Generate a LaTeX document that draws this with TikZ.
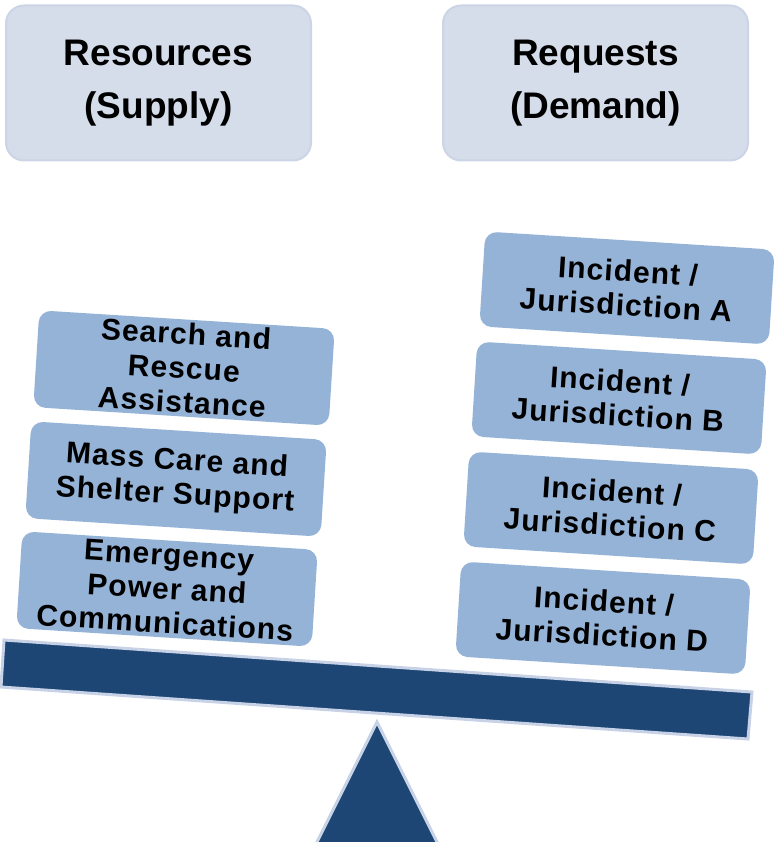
\documentclass[tikz,border=0pt]{standalone}
\usepackage{fontspec}
\setmainfont{Liberation Sans}
\newfontfamily\boxfont[LetterSpace=3.5]{Liberation Sans}
\definecolor{topfill}{HTML}{D5DCEA}
\definecolor{topline}{HTML}{CCD5E6}
\definecolor{boxfill}{HTML}{95B3D7}
\definecolor{beamfill}{HTML}{1D4675}
\definecolor{beamline}{HTML}{C8D2E6}
\begin{document}
\begin{tikzpicture}[x=1pt,y=-1pt,
  headbox/.style={draw=topline, line width=2pt, fill=topfill, rounded corners=18pt,
    minimum width=305pt, minimum height=155pt, align=center, inner sep=0pt,
    font=\fontsize{37}{53}\selectfont\bfseries},
  leftbox/.style={fill=boxfill, rounded corners=12pt, rotate=-3.6,
    minimum width=296pt, minimum height=97pt, align=center, inner sep=0pt,
    font=\boxfont\fontsize{30}{34}\selectfont\bfseries},
  rightbox/.style={leftbox, minimum width=290pt, minimum height=95pt},
  beamstyle/.style={draw=beamline, line width=3pt, fill=beamfill, line join=miter}]
\useasboundingbox (0,0) rectangle (774,842);
\clip (0,0) rectangle (774,842);

% headers
\node[headbox] (supply) at (158.5,83) {Resources\\(Supply)};
\node[headbox] (demand) at (595.5,83) {Requests\\(Demand)};

% supply stack
\node[leftbox] (sar) at (184,368) {Search and\\Rescue\\Assistance};
\node[leftbox] (mass) at (176,479) {Mass Care and\\Shelter Support};
\node[leftbox] (power) at (167,589) {Emergency\\Power and\\Communications};

% demand stack
\node[rightbox] (ja) at (627,288) {Incident /\\Jurisdiction A};
\node[rightbox] (jb) at (619,398) {Incident /\\Jurisdiction B};
\node[rightbox] (jc) at (611,508) {Incident /\\Jurisdiction C};
\node[rightbox] (jd) at (603,618) {Incident /\\Jurisdiction D};

% fulcrum
\draw[beamstyle] (377,722) -- (443,854) -- (311,854) -- cycle;
% beam
\draw[beamstyle] (4,640) -- (752,692) -- (748,739) -- (1,687) -- cycle;
\end{tikzpicture}
\end{document}
